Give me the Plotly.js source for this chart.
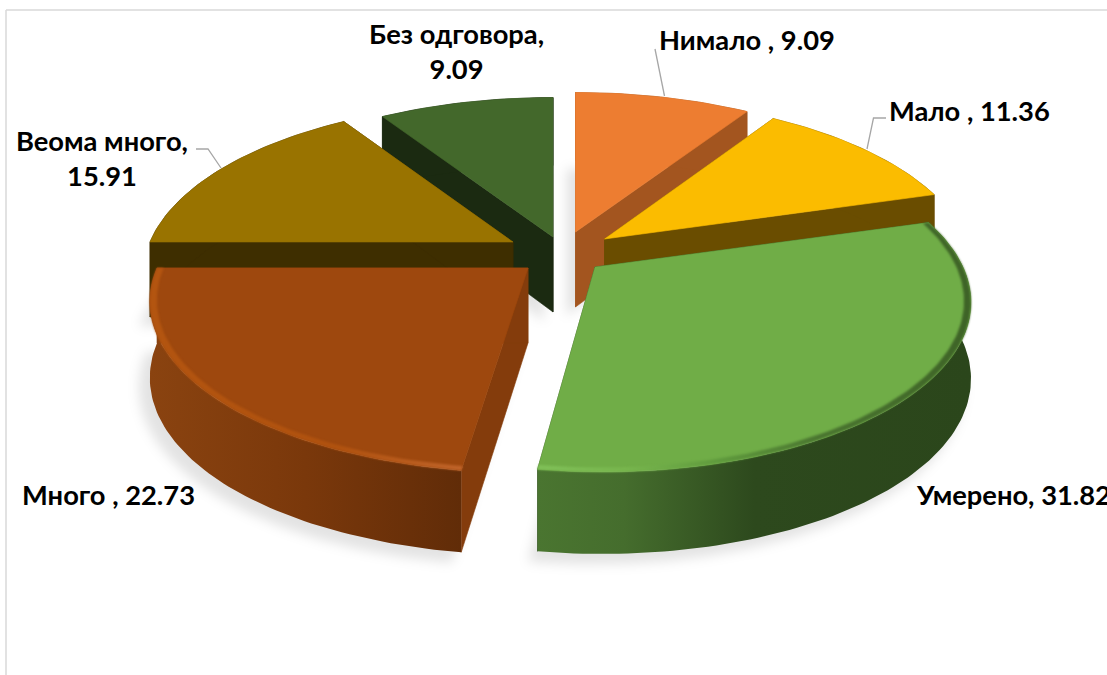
<!DOCTYPE html>
<html>
<head>
<meta charset="utf-8">
<script src="https://cdn.plot.ly/plotly-3.0.1.min.js"></script>
<style>html,body{margin:0;padding:0;background:#fff;overflow:hidden}#chart{width:1107px;height:675px}</style>
</head>
<body>
<div id="chart"></div>
<script>
// ---- data (clockwise from 12 o'clock) ----
const categories = ['Нимало ', 'Мало ', 'Умерено', 'Много ', 'Веома много', 'Без одговора'];
const values = [9.09, 11.36, 31.82, 22.73, 15.91, 9.09];

// ---- styles ----
const topColors  = ['#ED7D31', '#FBBC00', '#70AD47', '#9E480E', '#997300', '#43682B'];
const wallColors = ['#A3551F', '#6A4D00', '#2C471C', '#843C0C', '#3E2E00', '#1B2A11'];
const arcScales = {
  2: [[0, '#4A7530'], [0.2, '#456D2D'], [0.5, '#2D491D'], [1, '#2B461B']],
  3: [[0, '#8A4310'], [0.5, '#7A380B'], [1, '#612C08']]
};
const rimScales = {
  2: [[0, '#80C058'], [0.2, '#78B64E'], [0.42, '#5F9A3D'], [0.65, '#4A7530'], [1, '#3E6327']],
  3: [[0, '#B35510'], [0.6, '#B0520F'], [1, '#C0642A']]
};
// explosion of each slice from the pie centre, in px
const centerX = 565, centerY = 245;
const explodeX = [10.5, 39.5, 30, -37, -52, -12];
const explodeY = [-13, -6, 22, 23, -3, -8];
// perspective of the pie
const radiusXs = [368, 362, 368, 371, 363, 366];
const shear = [0, 0, 5.7, -1.5, 0, 0];
const radiusY = 166, persp = 0.19;
const paintOrder = [5, 0, 4, 1, 3, 2];

// label placement
const labelFormat = [
  {x: 657, y: 39, a: 'left', br: false},
  {x: 887, y: 110, a: 'left', br: false},
  {x: 914, y: 494, a: 'left', br: false},
  {x: 20, y: 494, a: 'left', br: false},
  {x: 102, y: 158, a: 'center', br: true},
  {x: 456, y: 51, a: 'center', br: true}
];
const fontFamily = 'Lato, "Noto Sans", sans-serif';
const fontSize = 27.3;

// ---- geometry computed from the values ----
const total = values.reduce((a, b) => a + b, 0);
let acc = 0;
const angles = values.map(v => { const s = acc; acc += v; return [s / total * 2 * Math.PI, acc / total * 2 * Math.PI]; });

function P(i, th, r) {
  const X = r * Math.sin(th), Y = r * Math.cos(th), d = 1 + persp * Y;
  return [centerX + explodeX[i] + (radiusXs[i] * X - shear[i] * Y) / d, centerY + explodeY[i] - radiusY * Y / d, Y];
}
function drop(Y) { return 75 - 7 * Y; }
function arc(i, a, b, r) {
  const n = Math.max(8, Math.round((b - a) / 0.02)), pts = [];
  for (let k = 0; k <= n; k++) pts.push(P(i, a + (b - a) * k / n, r));
  return pts;
}
function poly(pts, color, extra) {
  return Object.assign({
    type: 'scatter', mode: 'lines',
    x: pts.map(p => p[0]), y: pts.map(p => p[1]),
    fill: 'toself', fillcolor: color,
    line: {width: 0.6, color: color},
    hoverinfo: 'skip', showlegend: false
  }, extra || {});
}
function shift(pts) { return pts.map(p => [p[0], p[1] + drop(p[2]), p[2]]); }

const traces = [];
const blurred = [];
// soft ground shadow: each slice footprint, offset and blurred after drawing
paintOrder.forEach(i => {
  const [a, b] = angles[i];
  const pts = shift([P(i, a, 0)].concat(arc(i, a, b, 1.005)));
  pts.push(pts[0]);
  blurred.push([traces.length, 6]);
  traces.push(poly(pts.map(p => [p[0] - 9, p[1] + 9]), 'rgba(0,0,0,0.11)', {line: {width: 0}}));
});

paintOrder.forEach(i => {
  const [a, b] = angles[i];
  const apex = P(i, a, 0);
  const e0 = P(i, a, 1), e1 = P(i, b, 1);
  // radial walls
  traces.push(poly([apex, e0].concat(shift([e0, apex])).concat([apex]), wallColors[i]));
  traces.push(poly([apex, e1].concat(shift([e1, apex])).concat([apex]), wallColors[i]));
  // outer wall
  const outer = arc(i, a, b, 1);
  const wall = outer.concat(shift(outer).reverse());
  wall.push(outer[0]);
  const ex = arcScales[i] ? {fillgradient: {type: 'horizontal', colorscale: arcScales[i]}, line: {width: 0}} : {};
  traces.push(poly(wall, wallColors[i], ex));
  // top face
  traces.push(poly([apex].concat(outer).concat([apex]), topColors[i]));
  // bevel along the rim
  if (rimScales[i]) {
    const inner = arc(i, a, b, 0.982);
    const rim = outer.concat(inner.reverse());
    rim.push(outer[0]);
    blurred.push([traces.length, 1.3]);
    traces.push(poly(rim, topColors[i], {fillgradient: {type: 'horizontal', colorscale: rimScales[i]}, line: {width: 0}}));
  }
});

const annotations = categories.map((c, i) => {
  const f = labelFormat[i];
  const num = values[i].toFixed(2);
  return {
    xref: 'x', yref: 'y', x: f.x, y: f.y, showarrow: false,
    xanchor: f.a, yanchor: 'middle', align: 'center',
    text: c + ',' + (f.br ? '<br>' : ' ') + num,
    font: {family: fontFamily, size: fontSize, color: '#000', weight: 700}
  };
});

const leader = (d) => ({type: 'path', xref: 'x', yref: 'y', path: d, line: {color: '#A6A6A6', width: 1.3}, layer: 'above'});
const shapes = [
  {type: 'line', xref: 'x', yref: 'y', x0: 6, x1: 6, y0: 10, y1: 675, line: {color: '#D9D9D9', width: 1.5}},
  {type: 'line', xref: 'x', yref: 'y', x0: 6, x1: 1107, y0: 10, y1: 10, line: {color: '#D9D9D9', width: 1.5}},
  leader('M655,49 L664.5,96'),
  leader('M886,118 L873.5,118 L867,149'),
  leader('M196,149 L208,149 L221,168')
];

const hidden = {visible: false, fixedrange: true};
Plotly.newPlot('chart', traces, {
  width: 1107, height: 675,
  margin: {l: 0, r: 0, t: 0, b: 0},
  paper_bgcolor: '#fff', plot_bgcolor: '#fff',
  xaxis: Object.assign({range: [0, 1107]}, hidden),
  yaxis: Object.assign({range: [675, 0]}, hidden),
  showlegend: false, hovermode: false,
  annotations, shapes
}, {displayModeBar: false, staticPlot: true}).then(gd => {
  const groups = gd.querySelectorAll('.scatterlayer .trace');
  blurred.forEach(([idx, px]) => { if (groups[idx]) groups[idx].style.filter = 'blur(' + px + 'px)'; });
});
</script>
</body>
</html>
